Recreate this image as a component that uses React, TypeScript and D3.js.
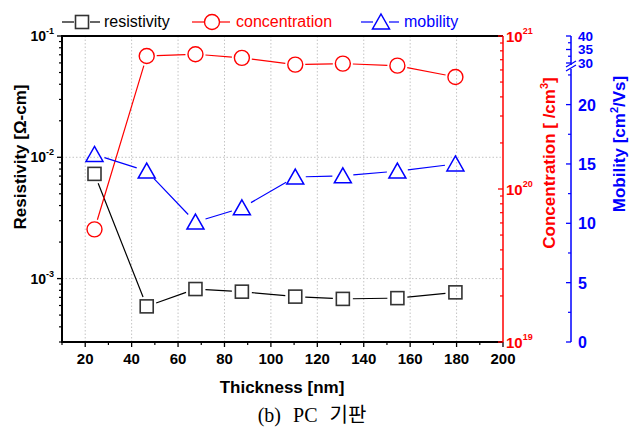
import React from 'react';
import * as d3 from 'd3';

const thickness = [24, 46.5, 67.5, 87.5, 110.5, 131, 154.5, 179.5];
const resistivity = [7.3e-3, 5.9e-4, 8.2e-4, 7.8e-4, 7.1e-4, 6.8e-4, 6.9e-4, 7.7e-4];
const concentration = [5.45e19, 7.4e20, 7.6e20, 7.2e20, 6.5e20, 6.6e20, 6.4e20, 5.4e20];
const mobility = [15.8, 14.4, 10.1, 11.3, 13.9, 14.0, 14.4, 15.0];

const xTicks = [20, 40, 60, 80, 100, 120, 140, 160, 180, 200];
const xMinor = [10, 30, 50, 70, 90, 110, 130, 150, 170, 190];
const resDecades = [-3, -2, -1];
const conDecades = [19, 20, 21];
const mobLowTicks = [0, 5, 10, 15, 20];
const mobHighTicks = [30, 35, 40];

const SANS = '"Liberation Sans", Arial, sans-serif';
const left = 62, right = 503, top = 36, bottom = 342;
const mobAxisX = 571;

const x = d3.scaleLinear().domain([10, 200]).range([left, right]);
const yRes = d3.scaleLog().domain([3e-4, 0.1]).range([bottom, top]);
const yCon = d3.scaleLog().domain([1e19, 1e21]).range([bottom, top]);
const mobLow = d3.scaleLinear().domain([0, 23]).range([bottom, 69]);
const mobHigh = d3.scaleLinear().domain([30, 40]).range([63, top]);
const yMob = (v: number) => (v <= 23 ? mobLow(v) : mobHigh(v));

// minor ticks 2..9 x 10^n inside the domain
function logMinor(scale: any) {
  const [a, b] = scale.domain();
  const out: number[] = [];
  for (let e = Math.floor(Math.log10(a)); e <= Math.ceil(Math.log10(b)); e++) {
    for (let k = 2; k <= 9; k++) {
      const v = k * Math.pow(10, e);
      if (v >= a && v <= b) out.push(v);
    }
  }
  return out;
}

// connecting segments with a gap around each marker
function gappedSegments(pts: [number, number][], gap: number) {
  const segs: string[] = [];
  for (let i = 0; i < pts.length - 1; i++) {
    const [x0, y0] = pts[i];
    const [x1, y1] = pts[i + 1];
    const len = Math.hypot(x1 - x0, y1 - y0);
    if (len <= gap * 2) continue;
    const ux = (x1 - x0) / len, uy = (y1 - y0) / len;
    segs.push(`M${x0 + ux * gap},${y0 + uy * gap}L${x1 - ux * gap},${y1 - uy * gap}`);
  }
  return segs.join('');
}

const Square = ({ cx, cy, color }: any) => (
  <rect x={cx - 6.5} y={cy - 6.5} width={13} height={13} fill="none" stroke={color} strokeWidth={1.6} />
);
const Circle = ({ cx, cy, color }: any) => (
  <circle cx={cx} cy={cy} r={7.5} fill="none" stroke={color} strokeWidth={1.4} />
);
const Triangle = ({ cx, cy, color }: any) => (
  <path d={`M${cx},${cy - 8}L${cx + 8.5},${cy + 7}L${cx - 8.5},${cy + 7}Z`} fill="none" stroke={color} strokeWidth={1.5} />
);

const App = () => {
  const resPts = thickness.map((t, i) => [x(t), yRes(resistivity[i])] as [number, number]);
  const conPts = thickness.map((t, i) => [x(t), yCon(concentration[i])] as [number, number]);
  const mobPts = thickness.map((t, i) => [x(t), yMob(mobility[i])] as [number, number]);

  const mobMinorLow = d3.range(2.5, 23, 5);
  const mobMinorHigh = [32.5, 37.5];

  const legend = [
    { label: 'resistivity', color: '#000', cx: 82, tx: 104, M: Square },
    { label: 'concentration', color: '#ff0000', cx: 212, tx: 236, M: Circle },
    { label: 'mobility', color: '#0000ff', cx: 381, tx: 404, M: Triangle },
  ];

  return (
    <svg width={636} height={428} style={{ display: 'block', position: 'absolute', left: 0, top: 0, background: '#fff' }}>
      {/* grid */}
      <g stroke="#c4c4c4" strokeWidth={1} strokeDasharray="1.5,2">
        {xTicks.filter(t => t < 200).map(t => (
          <line key={t} x1={x(t)} x2={x(t)} y1={top} y2={bottom} />
        ))}
        {[1e-2, 1e-3].map(v => (
          <line key={v} x1={left} x2={right} y1={yRes(v)} y2={yRes(v)} />
        ))}
      </g>

      {/* series lines */}
      <path d={gappedSegments(resPts, 10)} stroke="#000" strokeWidth={1.2} fill="none" />
      <path d={gappedSegments(conPts, 10)} stroke="#ff0000" strokeWidth={1.2} fill="none" />
      <path d={gappedSegments(mobPts, 10.5)} stroke="#0000ff" strokeWidth={1.2} fill="none" />
      {resPts.map(([px, py], i) => <Square key={'s' + i} cx={px} cy={py} color="#333" />)}
      {conPts.map(([px, py], i) => <Circle key={'c' + i} cx={px} cy={py} color="#ff0000" />)}
      {mobPts.map(([px, py], i) => <Triangle key={'t' + i} cx={px} cy={py} color="#0000ff" />)}

      {/* frame: top, left, bottom */}
      <line x1={left} x2={right} y1={top} y2={top} stroke="#000" strokeWidth={2} />
      <line x1={left} x2={left} y1={top - 1} y2={bottom + 1} stroke="#000" strokeWidth={2} />
      <line x1={left} x2={right} y1={bottom} y2={bottom} stroke="#000" strokeWidth={2} />

      {/* x axis */}
      {xTicks.map(t => (
        <g key={t}>
          <line x1={x(t)} x2={x(t)} y1={bottom} y2={bottom + 5} stroke="#000" strokeWidth={1.3} />
          <text x={x(t)} y={364} textAnchor="middle" fontFamily={SANS} fontWeight="bold" fontSize={15}>{t}</text>
        </g>
      ))}
      {xMinor.map(t => (
        <line key={t} x1={x(t)} x2={x(t)} y1={bottom} y2={bottom + 3} stroke="#000" strokeWidth={1.2} />
      ))}
      <text x={282} y={393} textAnchor="middle" fontFamily={SANS} fontWeight="bold" fontSize={17}>Thickness [nm]</text>

      {/* left axis: resistivity */}
      {resDecades.map(e => (
        <g key={e}>
          <line x1={left - 5} x2={left} y1={yRes(Math.pow(10, e))} y2={yRes(Math.pow(10, e))} stroke="#000" strokeWidth={1.3} />
          <text x={54} y={yRes(Math.pow(10, e)) + 5} textAnchor="end" fontFamily={SANS} fontWeight="bold" fontSize={14}>
            10<tspan dy={-7} fontSize={9}>{e}</tspan>
          </text>
        </g>
      ))}
      {logMinor(yRes).map(v => (
        <line key={v} x1={left - 3} x2={left} y1={yRes(v)} y2={yRes(v)} stroke="#000" strokeWidth={1.2} />
      ))}
      <text transform={`translate(26,157) rotate(-90)`} textAnchor="middle" fontFamily={SANS} fontWeight="bold" fontSize={17}>
        Resistivity [Ω-cm]
      </text>

      {/* right axis: concentration */}
      <line x1={right} x2={right} y1={top} y2={bottom} stroke="#ff0000" strokeWidth={1.5} />
      {conDecades.map(e => (
        <g key={e}>
          <line x1={right - 5} x2={right} y1={yCon(Math.pow(10, e))} y2={yCon(Math.pow(10, e))} stroke="#ff0000" strokeWidth={1.3} />
          <text x={506} y={yCon(Math.pow(10, e)) + 6} fontFamily={SANS} fontWeight="bold" fontSize={15} fill="#ff0000">
            10<tspan dy={-8} fontSize={9}>{e}</tspan>
          </text>
        </g>
      ))}
      {logMinor(yCon).map(v => (
        <line key={v} x1={right - 3} x2={right} y1={yCon(v)} y2={yCon(v)} stroke="#ff0000" strokeWidth={1.2} />
      ))}
      <text transform={`translate(555,163) rotate(-90)`} textAnchor="middle" fontFamily={SANS} fontWeight="bold" fontSize={17} fill="#ff0000">
        Concentration [ /cm<tspan dy={-7} fontSize={11}>3</tspan><tspan dy={7}>]</tspan>
      </text>

      {/* far right axis: mobility with break */}
      <g stroke="#0000ff">
        <line x1={mobAxisX} x2={mobAxisX} y1={bottom} y2={mobLow(23)} strokeWidth={1.5} />
        <line x1={mobAxisX} x2={mobAxisX} y1={mobHigh(30) + 2} y2={top} strokeWidth={1.5} />
        <line x1={mobAxisX - 5} x2={mobAxisX + 5} y1={mobLow(23) + 2} y2={mobLow(23) - 4} strokeWidth={1.3} />
        <line x1={mobAxisX - 5} x2={mobAxisX + 5} y1={mobHigh(30) + 4} y2={mobHigh(30) - 2} strokeWidth={1.3} />
        {[...mobLowTicks.map(v => mobLow(v)), ...mobHighTicks.map(v => mobHigh(v))].map((py, i) => (
          <line key={'M' + i} x1={mobAxisX - 5} x2={mobAxisX} y1={py} y2={py} strokeWidth={1.3} />
        ))}
        {[...mobMinorLow.map(v => mobLow(v)), ...mobMinorHigh.map(v => mobHigh(v))].map((py, i) => (
          <line key={'m' + i} x1={mobAxisX - 3} x2={mobAxisX} y1={py} y2={py} strokeWidth={1.2} />
        ))}
      </g>
      {mobLowTicks.map(v => (
        <text key={v} x={578} y={mobLow(v) + 6} fontFamily={SANS} fontWeight="bold" fontSize={16} fill="#0000ff">{v}</text>
      ))}
      {mobHighTicks.map(v => (
        <text key={v} x={578} y={mobHigh(v) + 4.5} fontFamily={SANS} fontWeight="bold" fontSize={13.5} fill="#0000ff">{v}</text>
      ))}
      <text transform={`translate(625,144) rotate(-90)`} textAnchor="middle" fontFamily={SANS} fontWeight="bold" fontSize={17} fill="#0000ff">
        Mobility [cm<tspan dy={-7} fontSize={11}>2</tspan><tspan dy={7}>/Vs]</tspan>
      </text>

      {/* legend */}
      {legend.map(({ label, color, cx, tx, M }) => (
        <g key={label}>
          <line x1={cx - 20} x2={cx - 8} y1={22} y2={22} stroke={color} strokeWidth={1.2} />
          <line x1={cx + 8} x2={cx + 18} y1={22} y2={22} stroke={color} strokeWidth={1.2} />
          <M cx={cx} cy={22} color={color === '#000' ? '#333' : color} />
          <text x={tx} y={27} fontFamily={SANS} fontSize={16} fill={color}>{label}</text>
        </g>
      ))}

      {/* caption */}
      <text x={312} y={422} textAnchor="middle" fontFamily='"Liberation Serif", "DejaVu Serif", "Noto Sans CJK KR", serif' fontSize={20}>
        (b)<tspan dx={12}>PC</tspan><tspan dx={12}>기판</tspan>
      </text>
    </svg>
  );
};

export default App;
